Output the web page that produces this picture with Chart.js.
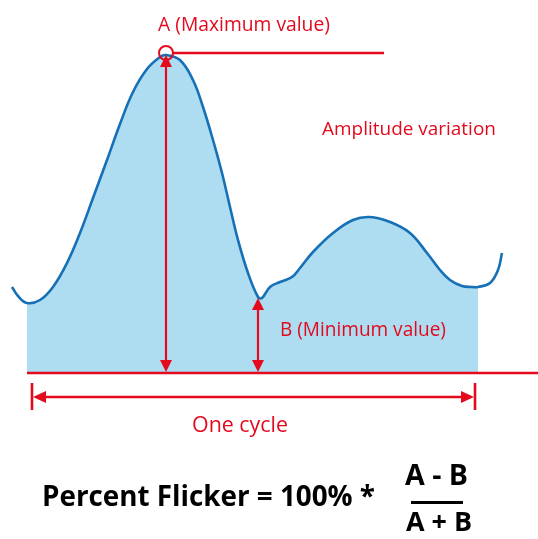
<!DOCTYPE html>
<html><head><meta charset="utf-8">
<script src="https://cdn.jsdelivr.net/npm/chart.js@4.4.0/dist/chart.umd.min.js"></script>
<style>html,body{margin:0;padding:0;background:#fff}#wrap{width:538px;height:539px;position:relative}</style>
</head><body><div id="wrap"><canvas id="c"></canvas></div>
<script>
// Waveform samples (time units, light intensity units above the zero baseline)
const timeX = [12,18,27,40,53,67,80,93,107,120,133,147,160,166,180,193,203,213,222,230,238,248,258,262,270,280,292,300,313,333,353,370,390,410,427,440,450,462,472,478,490,498,502];
const intensity = [86,77,70,73,86,110,140,175,213,249,281,304,316,318,313,293,266,233,200,166,133,100,76,75,86,91,96,105,121,140,153,156,151,140,120,103,93,87,86,86,90,103,120];
// One cycle boundaries (filled region) and key values
const fillRange = [27, 478];
const valueA = 320, timeA = 166;
const valueB = 75, timeB = 258;
const cycleTicks = [32, 475];
const baselineRange = [27, 538];
const refLineEndX = 384;
const labelA = "A (Maximum value)";
const labelB = "B (Minimum value)";
const labelAmp = "Amplitude variation";
const labelCycle = "One cycle";
const formulaLeft = "Percent Flicker = 100% *";
const formulaNum = "A - B";
const formulaDen = "A + B";

const RED = '#e30a1e', BLUE = '#1670b6', FILL = '#aedcf0';
const FAMILY = '"Open Sans", "Noto Sans", sans-serif';

const curve = timeX.map((t,i)=>({x:t,y:intensity[i]}));
const filled = curve.filter(p=>p.x>=fillRange[0] && p.x<=fillRange[1]);

function fitSize(ctx, text, weight, w){
  ctx.font = weight+' 100px '+FAMILY;
  return 100*w/ctx.measureText(text).width;
}
function head(ctx, x, y, dx, dy, len, half){
  const px=-dy, py=dx;
  ctx.beginPath();
  ctx.moveTo(x,y);
  ctx.lineTo(x-dx*len+px*half, y-dy*len+py*half);
  ctx.lineTo(x-dx*len-px*half, y-dy*len-py*half);
  ctx.closePath(); ctx.fill();
}
function text(ctx, s, cx, baseY, weight, width, color){
  const size = fitSize(ctx, s, weight, width);
  ctx.font = weight+' '+size.toFixed(2)+'px '+FAMILY;
  ctx.fillStyle = color; ctx.textAlign='center'; ctx.textBaseline='alphabetic';
  ctx.fillText(s, cx, baseY);
}

const overlay = {
  id:'overlay',
  afterDatasetsDraw(chart){
    const {ctx, scales:{x, y}} = chart;
    const X = v=>x.getPixelForValue(v), Y = v=>y.getPixelForValue(v);
    ctx.save();
    ctx.strokeStyle = RED; ctx.fillStyle = RED; ctx.lineCap='butt';
    // baseline
    ctx.lineWidth = 2.6;
    ctx.beginPath(); ctx.moveTo(X(baselineRange[0]), Y(0)); ctx.lineTo(X(baselineRange[1]), Y(0)); ctx.stroke();
    // A circle and reference line
    const ax = X(timeA), ay = Y(valueA);
    ctx.lineWidth = 2;
    ctx.beginPath(); ctx.arc(ax, ay, 7, 0, Math.PI*2); ctx.stroke();
    ctx.lineWidth = 2.4;
    ctx.beginPath(); ctx.moveTo(ax+7, ay); ctx.lineTo(X(refLineEndX), ay); ctx.stroke();
    // A arrow
    const aTop = Y(valueA-2), base = Y(0)-1;
    ctx.lineWidth = 2.2;
    ctx.beginPath(); ctx.moveTo(ax, aTop+8); ctx.lineTo(ax, base-8); ctx.stroke();
    head(ctx, ax, aTop, 0, -1, 12, 6);
    head(ctx, ax, base, 0, 1, 12, 6);
    // B arrow
    const bx = X(timeB), bTop = Y(valueB);
    ctx.beginPath(); ctx.moveTo(bx, bTop+8); ctx.lineTo(bx, base-8); ctx.stroke();
    head(ctx, bx, bTop, 0, -1, 12, 6);
    head(ctx, bx, base, 0, 1, 12, 6);
    // one cycle arrow
    const cy = Y(-24), c0 = X(cycleTicks[0]), c1 = X(cycleTicks[1]);
    ctx.lineWidth = 2.6;
    ctx.beginPath();
    ctx.moveTo(c0, cy-14); ctx.lineTo(c0, cy+13);
    ctx.moveTo(c1, cy-14); ctx.lineTo(c1, cy+13);
    ctx.stroke();
    ctx.lineWidth = 2.4;
    ctx.beginPath(); ctx.moveTo(c0+8, cy); ctx.lineTo(c1-8, cy); ctx.stroke();
    head(ctx, c0+1, cy, -1, 0, 13, 6);
    head(ctx, c1-1, cy, 1, 0, 13, 6);
    // labels
    text(ctx, labelA, 244, 31, '400', 172, RED);
    text(ctx, labelAmp, 409, 135, '400', 174, RED);
    text(ctx, labelB, 363, 336, '400', 166, RED);
    text(ctx, labelCycle, 240, 432, '400', 96, RED);
    // formula
    text(ctx, formulaLeft, 208.5, 506, '700', 333, '#000');
    text(ctx, formulaNum, 436.5, 485, '700', 63, '#000');
    text(ctx, formulaDen, 439, 531, '700', 66, '#000');
    ctx.fillStyle='#000';
    ctx.fillRect(411, 501, 52, 3);
    ctx.restore();
  }
};

new Chart(document.getElementById('c'), {
  type:'line',
  data:{datasets:[
    {data:filled, order:2, borderWidth:0, borderColor:'rgba(0,0,0,0)', pointRadius:0, fill:'origin', backgroundColor:FILL, tension:0.4},
    {data:curve, order:1, borderColor:BLUE, borderWidth:2.6, pointRadius:0, fill:false, tension:0.4}
  ]},
  options:{
    responsive:true, maintainAspectRatio:false, animation:false,
    layout:{padding:0},
    plugins:{legend:{display:false}, tooltip:{enabled:false}},
    scales:{
      x:{type:'linear', min:0, max:538, display:false},
      y:{type:'linear', min:-166, max:373, display:false}
    }
  },
  plugins:[overlay]
});
</script>
</body></html>
